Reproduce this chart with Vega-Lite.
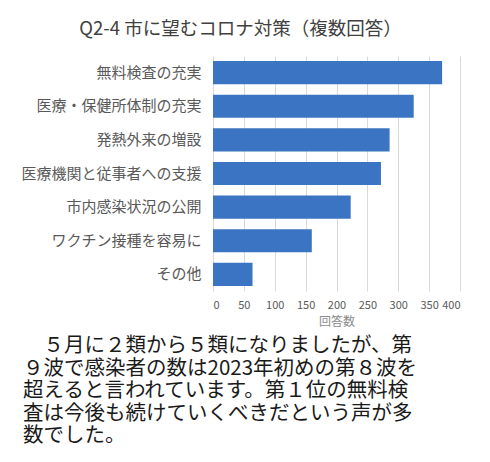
{
  "$schema": "https://vega.github.io/schema/vega-lite/v6.json",
  "background": "white",
  "padding": {"left": 20, "top": 19, "right": 8, "bottom": 2},
  "title": {"text": "Q2-4 市に望むコロナ対策（複数回答）", "anchor": "middle", "fontSize": 18.5, "font": "Noto Sans CJK JP", "fontWeight": "normal", "color": "#404040", "offset": 18},
  "config": {"view": {"stroke": null}, "font": "Noto Sans CJK JP"},
  "vconcat": [
    {
      "width": 247,
      "height": 235,
      "title": {
        "text": ["\u200b\u3000５月に２類から５類になりましたが、第", "９波で感染者の数は2023年初めの第８波を", "超えると言われています。第１位の無料検", "査は今後も続けていくべきだという声が多", "数でした。"],
        "orient": "bottom",
        "anchor": "start",
        "fontSize": 20.5,
        "lineHeight": 22.5,
        "fontWeight": "normal",
        "color": "#1a1a1a",
        "offset": 9,
        "dx": 2,
        "font": "Noto Sans CJK JP"
      },
      "data": {
        "values": [
          {"item": "無料検査の充実", "count": 371},
          {"item": "医療・保健所体制の充実", "count": 325},
          {"item": "発熱外来の増設", "count": 286},
          {"item": "医療機関と従事者への支援", "count": 272},
          {"item": "市内感染状況の公開", "count": 223},
          {"item": "ワクチン接種を容易に", "count": 160},
          {"item": "その他", "count": 64}
        ]
      },
      "mark": {"type": "bar", "color": "#3b74c2"},
      "encoding": {
        "y": {
          "field": "item",
          "type": "nominal",
          "sort": null,
          "scale": {"paddingInner": 0.31, "paddingOuter": 0.15},
          "axis": {"title": null, "ticks": false, "domain": false, "labelFontSize": 15, "labelLimit": 300, "labelColor": "#595959", "labelPadding": 12}
        },
        "x": {
          "field": "count",
          "type": "quantitative",
          "scale": {"domain": [0, 400]},
          "axis": {
            "title": "回答数",
            "values": [0, 50, 100, 150, 200, 250, 300, 350, 400],
            "grid": true,
            "gridColor": "#d9d9d9",
            "domain": false,
            "ticks": false,
            "labelFontSize": 11,
            "labelColor": "#595959",
            "labelPadding": 8,
            "titleFontSize": 12,
            "titleColor": "#8c8c8c",
            "titleFontWeight": "normal",
            "titlePadding": 6
          }
        }
      }
    }
  ]
}
